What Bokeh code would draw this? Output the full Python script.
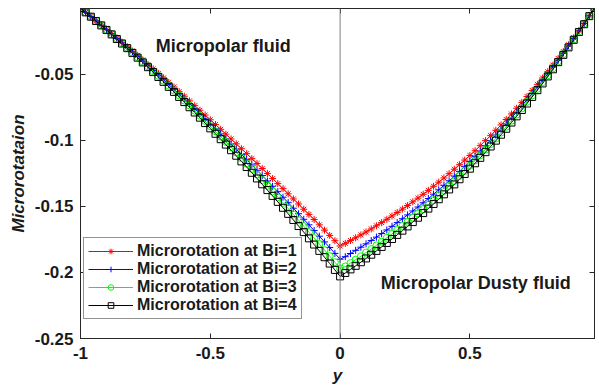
from bokeh.plotting import figure
from bokeh.models import Range1d, FixedTicker, LinearAxis, Span, Label, Legend, LegendItem
from bokeh.embed import file_html
from bokeh.resources import INLINE

y_pos = [-1.0, -0.98, -0.96, -0.94, -0.92, -0.9, -0.88, -0.86, -0.84, -0.82,
         -0.8, -0.78, -0.76, -0.74, -0.72, -0.7, -0.68, -0.66, -0.64, -0.62,
         -0.6, -0.58, -0.56, -0.54, -0.52, -0.5, -0.48, -0.46, -0.44, -0.42,
         -0.4, -0.38, -0.36, -0.34, -0.32, -0.3, -0.28, -0.26, -0.24, -0.22,
         -0.2, -0.18, -0.16, -0.14, -0.12, -0.1, -0.08, -0.06, -0.04, -0.02,
         0.0, 0.02, 0.04, 0.06, 0.08, 0.1, 0.12, 0.14, 0.16, 0.18,
         0.2, 0.22, 0.24, 0.26, 0.28, 0.3, 0.32, 0.34, 0.36, 0.38,
         0.4, 0.42, 0.44, 0.46, 0.48, 0.5, 0.52, 0.54, 0.56, 0.58,
         0.6, 0.62, 0.64, 0.66, 0.68, 0.7, 0.72, 0.74, 0.76, 0.78,
         0.8, 0.82, 0.84, 0.86, 0.88, 0.9, 0.92, 0.94, 0.96, 0.98]

bi1 = [0.0, -0.0032, -0.0064, -0.0096, -0.0128, -0.0160, -0.0193, -0.0226, -0.0258, -0.0292,
       -0.0325, -0.0358, -0.0392, -0.0426, -0.0460, -0.0494, -0.0528, -0.0563, -0.0597, -0.0632,
       -0.0667, -0.0702, -0.0738, -0.0773, -0.0809, -0.0845, -0.0881, -0.0917, -0.0954, -0.0990,
       -0.1027, -0.1064, -0.1101, -0.1139, -0.1176, -0.1214, -0.1252, -0.1290, -0.1328, -0.1366,
       -0.1405, -0.1444, -0.1482, -0.1522, -0.1561, -0.1600, -0.1640, -0.1680, -0.1720, -0.1760,
       -0.1800,
       -0.1780, -0.1759, -0.1738, -0.1716, -0.1694, -0.1671, -0.1647, -0.1623, -0.1598, -0.1573,
       -0.1547, -0.1521, -0.1494, -0.1466, -0.1438, -0.1409, -0.1379, -0.1348, -0.1317, -0.1285,
       -0.1253, -0.1219, -0.1185, -0.1150, -0.1115, -0.1079, -0.1041, -0.1003, -0.0965, -0.0925,
       -0.0884, -0.0843, -0.0801, -0.0758, -0.0714, -0.0669, -0.0623, -0.0577, -0.0529, -0.0481,
       -0.0431, -0.0381, -0.0329, -0.0277, -0.0224, -0.0169, -0.0114, -0.0058, 0.0]

bi2 = [0.0, -0.0032, -0.0064, -0.0097, -0.0130, -0.0163, -0.0196, -0.0230, -0.0264, -0.0298,
       -0.0332, -0.0367, -0.0401, -0.0436, -0.0472, -0.0507, -0.0543, -0.0579, -0.0615, -0.0651,
       -0.0688, -0.0725, -0.0762, -0.0799, -0.0837, -0.0875, -0.0913, -0.0951, -0.0990, -0.1029,
       -0.1068, -0.1107, -0.1147, -0.1187, -0.1227, -0.1267, -0.1308, -0.1348, -0.1389, -0.1431,
       -0.1472, -0.1514, -0.1556, -0.1598, -0.1640, -0.1683, -0.1726, -0.1769, -0.1812, -0.1856,
       -0.1900,
       -0.1881, -0.1857, -0.1833, -0.1809, -0.1784, -0.1759, -0.1733, -0.1706, -0.1679, -0.1651,
       -0.1623, -0.1594, -0.1565, -0.1535, -0.1505, -0.1473, -0.1441, -0.1408, -0.1375, -0.1341,
       -0.1307, -0.1271, -0.1235, -0.1197, -0.1160, -0.1122, -0.1082, -0.1042, -0.1002, -0.0960,
       -0.0917, -0.0875, -0.0830, -0.0786, -0.0740, -0.0693, -0.0645, -0.0597, -0.0548, -0.0497,
       -0.0445, -0.0394, -0.0340, -0.0286, -0.0231, -0.0174, -0.0118, -0.0059, 0.0]

bi3 = [0.0, -0.0032, -0.0065, -0.0097, -0.0130, -0.0164, -0.0197, -0.0231, -0.0265, -0.0300,
       -0.0335, -0.0370, -0.0405, -0.0441, -0.0477, -0.0513, -0.0550, -0.0587, -0.0624, -0.0661,
       -0.0699, -0.0737, -0.0776, -0.0814, -0.0853, -0.0893, -0.0932, -0.0972, -0.1012, -0.1052,
       -0.1093, -0.1134, -0.1176, -0.1217, -0.1259, -0.1301, -0.1344, -0.1387, -0.1430, -0.1473,
       -0.1517, -0.1561, -0.1605, -0.1650, -0.1695, -0.1740, -0.1785, -0.1831, -0.1877, -0.1923,
       -0.1970,
       -0.1955, -0.1929, -0.1903, -0.1878, -0.1850, -0.1823, -0.1795, -0.1767, -0.1738, -0.1709,
       -0.1679, -0.1648, -0.1617, -0.1585, -0.1553, -0.1520, -0.1487, -0.1453, -0.1418, -0.1382,
       -0.1346, -0.1309, -0.1271, -0.1232, -0.1193, -0.1153, -0.1113, -0.1071, -0.1029, -0.0986,
       -0.0942, -0.0898, -0.0852, -0.0806, -0.0759, -0.0710, -0.0661, -0.0611, -0.0561, -0.0509,
       -0.0456, -0.0403, -0.0349, -0.0293, -0.0237, -0.0178, -0.0120, -0.0060, 0.0]

bi4 = [0.0, -0.0032, -0.0065, -0.0098, -0.0131, -0.0165, -0.0199, -0.0234, -0.0268, -0.0303,
       -0.0339, -0.0375, -0.0411, -0.0447, -0.0484, -0.0521, -0.0558, -0.0596, -0.0634, -0.0672,
       -0.0711, -0.0750, -0.0790, -0.0829, -0.0870, -0.0910, -0.0951, -0.0992, -0.1033, -0.1075,
       -0.1117, -0.1160, -0.1202, -0.1246, -0.1289, -0.1333, -0.1377, -0.1421, -0.1466, -0.1511,
       -0.1557, -0.1603, -0.1649, -0.1695, -0.1742, -0.1789, -0.1837, -0.1885, -0.1933, -0.1981,
       -0.2030,
       -0.2004, -0.1977, -0.1950, -0.1923, -0.1894, -0.1866, -0.1837, -0.1807, -0.1777, -0.1747,
       -0.1716, -0.1684, -0.1652, -0.1619, -0.1586, -0.1551, -0.1517, -0.1482, -0.1446, -0.1409,
       -0.1372, -0.1334, -0.1295, -0.1255, -0.1215, -0.1174, -0.1133, -0.1090, -0.1047, -0.1003,
       -0.0958, -0.0913, -0.0866, -0.0819, -0.0771, -0.0722, -0.0672, -0.0621, -0.0570, -0.0517,
       -0.0463, -0.0409, -0.0354, -0.0297, -0.0240, -0.0181, -0.0122, -0.0061, 0.0]

series_labels = ["Microrotation at Bi=1", "Microrotation at Bi=2",
                 "Microrotation at Bi=3", "Microrotation at Bi=4"]
series_colors = ["#ff0000", "#0000ff", "#00ff00", "#000000"]
series_markers = ["asterisk", "cross", "circle", "square"]

x_ticks = [-1.0, -0.5, 0.0, 0.5]
x_tick_labels = ["-1", "-0.5", "0", "0.5"]
y_ticks = [-0.25, -0.2, -0.15, -0.1, -0.05]
y_tick_labels = ["-0.25", "-0.2", "-0.15", "-0.1", "-0.05"]

region_texts = ["Micropolar fluid", "Micropolar Dusty fluid"]
region_x = [-0.45, 0.523]
region_y = [-0.029, -0.208]

FONT = "Liberation Sans"
TXT = "#1a1a1a"

p = figure(width=599, height=387, output_backend="svg", toolbar_location=None,
           x_range=Range1d(-1.0, 0.98), y_range=Range1d(-0.25, -0.0003),
           min_border_left=80, min_border_right=5, min_border_top=8, min_border_bottom=49)
p.background_fill_color = "white"
p.border_fill_color = "white"
p.xgrid.visible = False
p.ygrid.visible = False
p.outline_line_color = "#262626"
p.outline_line_width = 1

def style_axis(ax, labels_visible=True):
    ax.axis_line_color = "#262626"
    ax.major_tick_line_color = "#262626"
    ax.major_tick_in = 5
    ax.major_tick_out = 0
    ax.minor_tick_line_color = None
    ax.major_label_text_font = FONT
    ax.major_label_text_font_style = "bold"
    if labels_visible:
        ax.major_label_text_font_size = "17px"
        ax.major_label_text_color = TXT
    else:
        ax.major_label_text_font_size = "1px"
        ax.major_label_text_color = None
        ax.major_label_standoff = 0

p.xaxis.ticker = FixedTicker(ticks=x_ticks)
p.xaxis.major_label_overrides = dict(zip(x_ticks, x_tick_labels))
p.yaxis.ticker = FixedTicker(ticks=y_ticks)
p.yaxis.major_label_overrides = dict(zip(y_ticks, y_tick_labels))
style_axis(p.xaxis[0])
style_axis(p.yaxis[0])
p.xaxis.major_label_standoff = 8
p.yaxis.major_label_standoff = 7
p.xaxis.axis_label = "y"
p.yaxis.axis_label = "Microrotataion"
for ax in (p.xaxis[0], p.yaxis[0]):
    ax.axis_label_text_font = FONT
    ax.axis_label_text_font_style = "bold italic"
    ax.axis_label_text_font_size = "17px"
    ax.axis_label_text_color = TXT
p.xaxis.axis_label_standoff = 4
p.yaxis.axis_label_standoff = 4

top_ax = LinearAxis(ticker=FixedTicker(ticks=x_ticks))
style_axis(top_ax, False)
p.add_layout(top_ax, "above")
right_ax = LinearAxis(ticker=FixedTicker(ticks=y_ticks))
style_axis(right_ax, False)
p.add_layout(right_ax, "right")

p.add_layout(Span(location=0, dimension="height", line_color="#808080", line_width=1))

items = []
for yy, lab, col, mk in zip([bi1, bi2, bi3, bi4], series_labels, series_colors, series_markers):
    ln = p.line(y_pos, yy, line_color=col, line_width=1)
    sc = p.scatter(y_pos, yy, marker=mk, size=7, line_color=col, fill_color=None, line_width=1)
    items.append(LegendItem(label=lab, renderers=[ln, sc]))

legend = Legend(items=items, location=(3, 19))
legend.label_text_font = FONT
legend.label_text_font_style = "bold"
legend.label_text_font_size = "16px"
legend.label_text_color = TXT
legend.glyph_width = 45
legend.glyph_height = 14
legend.label_height = 17
legend.label_standoff = 4
legend.spacing = 0
legend.padding = 4
legend.margin = 0
legend.border_line_color = "#262626"
legend.border_line_width = 1
legend.background_fill_color = "white"
legend.background_fill_alpha = 1.0
p.add_layout(legend, "center")

for t, xx, yy in zip(region_texts, region_x, region_y):
    p.add_layout(Label(x=xx, y=yy, text=t, text_font=FONT, text_font_style="bold",
                       text_font_size="18px", text_color=TXT,
                       text_align="center", text_baseline="middle"))

open("out.html", "w").write(file_html(p, INLINE))
